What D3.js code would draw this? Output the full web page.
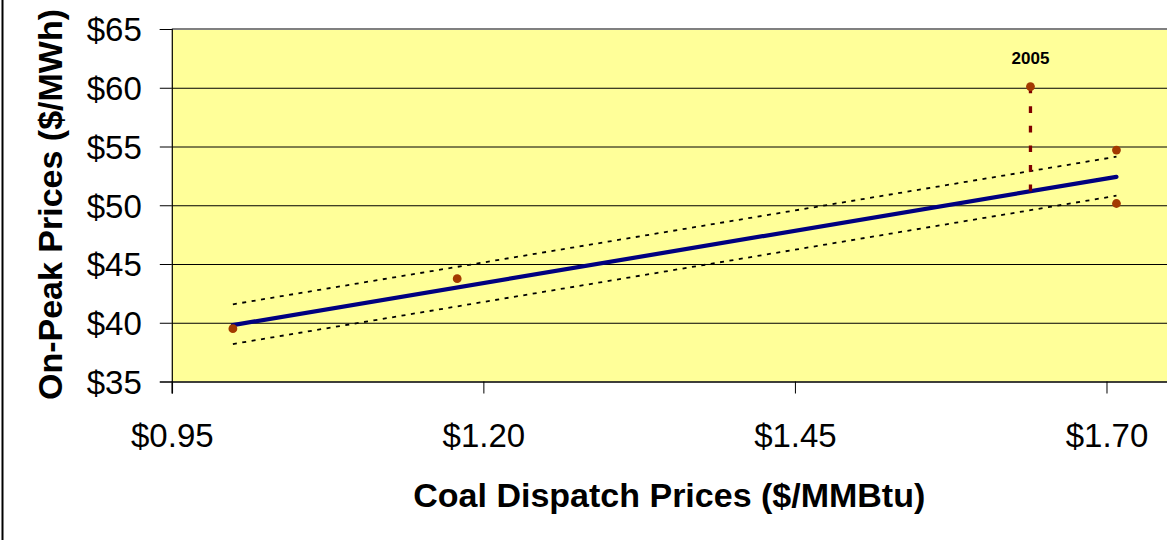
<!DOCTYPE html>
<html>
<head>
<meta charset="utf-8">
<script src="https://cdn.jsdelivr.net/npm/d3@7"></script>
<style>
  html, body { margin: 0; padding: 0; background: #fff; overflow: hidden; }
  svg { display: block; font-family: "Liberation Sans", Arial, sans-serif; }
</style>
</head>
<body>
<svg id="chart" width="1167" height="540"></svg>
<script>
// Observed coal dispatch price vs. on-peak power price
const coalPrice   = [0.999, 1.179, 1.639, 1.708, 1.708];
const onPeakPrice = [39.5, 43.75, 60.1, 54.7, 50.15];
const pointYears  = ["", "", "2005", "", ""];

// Fitted line and its upper / lower bands (values at the two ends)
const fitX       = [0.999, 1.708];
const fitY       = [39.8, 52.42];
const upperBandY = [41.57, 54.13];
const lowerBandY = [38.19, 50.81];

// Year whose residual is highlighted
const highlightYear = "2005";

// Axes
const xTicks = [0.95, 1.20, 1.45, 1.70];
const yTicks = [35, 40, 45, 50, 55, 60, 65];
const xDomain = [0.95, 1.75];
const yDomain = [35, 65];

const xTitle = "Coal Dispatch Prices ($/MMBtu)";
const yTitle = "On-Peak Prices ($/MWh)";

const svg = d3.select("#chart");
const plotLeft = 171.8, plotRight = 1168.8, plotTop = 29, plotBottom = 381.5;

const x = d3.scaleLinear().domain(xDomain).range([plotLeft, plotRight]);
const y = d3.scaleLinear().domain(yDomain).range([plotBottom, plotTop]);

// outer frame edge
svg.append("line")
  .attr("x1", 2.5).attr("x2", 2.5).attr("y1", 0).attr("y2", 540)
  .attr("stroke", "#000").attr("stroke-width", 2);

// plot area
svg.append("rect")
  .attr("x", plotLeft).attr("y", plotTop)
  .attr("width", plotRight - plotLeft).attr("height", plotBottom - plotTop)
  .attr("fill", "#FFFF99");

// horizontal gridlines
const grid = svg.append("g")
  .attr("transform", `translate(${plotLeft},0)`)
  .call(d3.axisLeft(y).tickValues(yTicks.filter(v => v > yDomain[0] && v < yDomain[1]))
    .tickSize(-(plotRight - plotLeft)).tickFormat(""));
grid.select(".domain").remove();
grid.selectAll("line").attr("stroke", "#000").attr("stroke-width", 1);

// top border of plot area
svg.append("line")
  .attr("x1", plotLeft).attr("x2", plotRight).attr("y1", plotTop).attr("y2", plotTop)
  .attr("stroke", "#808080").attr("stroke-width", 2);

// y axis
const yAxis = svg.append("g")
  .attr("transform", `translate(${plotLeft},0)`)
  .call(d3.axisLeft(y).tickValues(yTicks).tickSize(12).tickPadding(18)
    .tickFormat(d => "$" + d));
yAxis.select(".domain").attr("stroke", "#000").attr("stroke-width", 1.2);
yAxis.selectAll("line").attr("stroke", "#000");
yAxis.selectAll("text")
  .attr("font-size", 33).attr("fill", "#000")
  .attr("font-family", "Liberation Sans, Arial, sans-serif")
  .attr("dy", "0.36em");

// x axis
const xAxis = svg.append("g")
  .attr("transform", `translate(0,${plotBottom})`)
  .call(d3.axisBottom(x).tickValues(xTicks).tickSize(12).tickPadding(0)
    .tickFormat(d => "$" + d3.format(".2f")(d)));
xAxis.select(".domain").attr("stroke", "#000").attr("stroke-width", 1.5);
xAxis.selectAll("line").attr("stroke", "#000");
xAxis.selectAll("text")
  .attr("font-size", 33).attr("fill", "#000")
  .attr("font-family", "Liberation Sans, Arial, sans-serif")
  .attr("y", 65).attr("dy", 0);

// confidence bands
const bandLine = d3.line().x(d => x(d[0])).y(d => y(d[1]));
[upperBandY, lowerBandY].forEach(band => {
  svg.append("path")
    .attr("d", bandLine(fitX.map((v, i) => [v, band[i]])))
    .attr("fill", "none").attr("stroke", "#000")
    .attr("stroke-width", 1.8).attr("stroke-dasharray", "4,5.5");
});

// fitted line
svg.append("path")
  .attr("d", bandLine(fitX.map((v, i) => [v, fitY[i]])))
  .attr("fill", "none").attr("stroke", "#000080")
  .attr("stroke-width", 4.2).attr("stroke-linecap", "round");

// residual of the highlighted year
const fitAt = d3.scaleLinear().domain(fitX).range(fitY);
const hi = pointYears.indexOf(highlightYear);
svg.append("line")
  .attr("x1", x(coalPrice[hi])).attr("x2", x(coalPrice[hi]))
  .attr("y1", y(onPeakPrice[hi])).attr("y2", y(fitAt(coalPrice[hi])))
  .attr("stroke", "#800000").attr("stroke-width", 3.3)
  .attr("stroke-dasharray", "6.7,12.9");

// observations
svg.append("g").selectAll("circle")
  .data(coalPrice.map((v, i) => ({ x: v, y: onPeakPrice[i], year: pointYears[i] })))
  .join("circle")
  .attr("cx", d => x(d.x)).attr("cy", d => y(d.y))
  .attr("r", 4.4).attr("fill", "#A33A00");

// year label
svg.append("text")
  .attr("x", x(coalPrice[hi])).attr("y", y(onPeakPrice[hi]) - 22.5)
  .attr("text-anchor", "middle").attr("font-size", 17).attr("font-weight", "bold")
  .text(highlightYear);

// axis titles
svg.append("text")
  .attr("x", (plotLeft + plotRight) / 2 - 1).attr("y", 506.7)
  .attr("text-anchor", "middle").attr("font-size", 34).attr("font-weight", "bold")
  .text(xTitle);

svg.append("text")
  .attr("transform", "translate(62,204.5) rotate(-90)")
  .attr("text-anchor", "middle").attr("font-size", 34).attr("font-weight", "bold")
  .text(yTitle);
</script>
</body>
</html>
